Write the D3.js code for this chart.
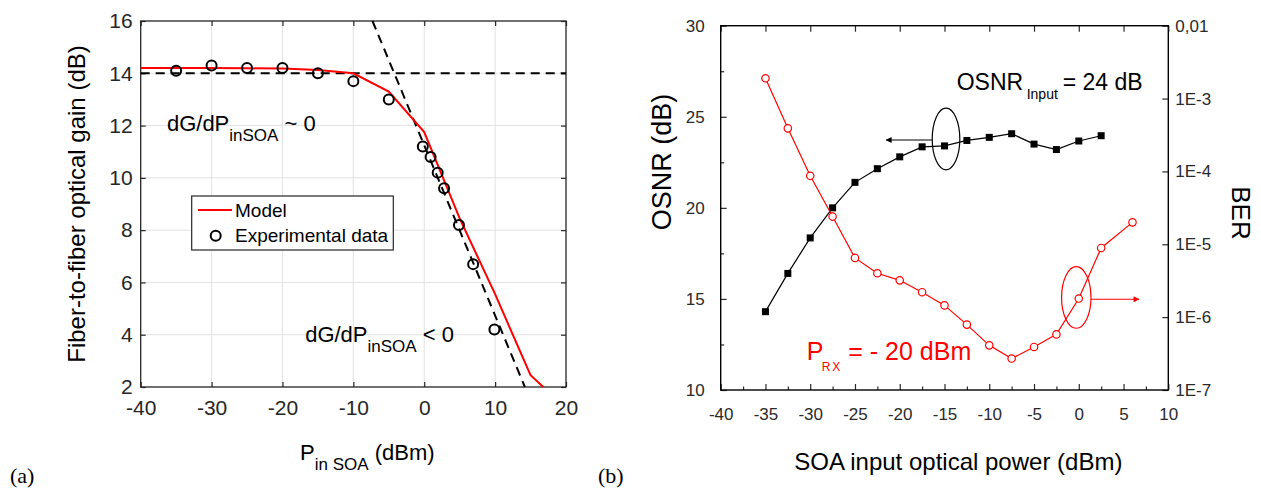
<!DOCTYPE html>
<html><head><meta charset="utf-8">
<script src="https://cdn.jsdelivr.net/npm/d3@7"></script>
<style>
body{margin:0;background:#fff;}
svg{display:block;font-family:"Liberation Sans",Arial,Helvetica,sans-serif;}
</style>
</head><body>
<svg id="c" width="1261" height="492"></svg>
<script>
// ---------- Panel (a) data ----------
const gainTicksX = [-40,-30,-20,-10,0,10,20];
const gainTicksY = [2,4,6,8,10,12,14,16];
const modelP = [-40,-35,-30,-25,-20,-15,-10,-5,0,5,10,15,16.8];
const modelG = [14.2,14.2,14.2,14.19,14.18,14.13,14.0,13.3,11.75,8.45,5.55,2.45,2.0];
const expP = [-35,-30,-25,-20,-15,-10,-5,-0.2,0.9,1.9,2.8,4.9,6.9,9.9];
const expG = [14.1,14.3,14.2,14.2,14.0,13.7,13.0,11.2,10.8,10.2,9.6,8.2,6.7,4.2];
const flatAsymP = [-40,20];
const flatAsymG = [14,14];
const slopeAsymP = [-7.3,14.2];
const slopeAsymG = [16,2];

// ---------- Panel (b) data ----------
const soaTicks = [-40,-35,-30,-25,-20,-15,-10,-5,0,5,10];
const osnrTicks = [10,15,20,25,30];
const berTicks = [1e-7,1e-6,1e-5,1e-4,1e-3,1e-2];
const berTickLabels = ["1E-7","1E-6","1E-5","1E-4","1E-3","0,01"];
const osnrP = [-35,-32.5,-30,-27.5,-25,-22.5,-20,-17.5,-15,-12.5,-10,-7.5,-5,-2.5,0,2.5];
const osnrVal = [14.3,16.4,18.35,20.0,21.4,22.15,22.8,23.35,23.4,23.7,23.87,24.07,23.5,23.2,23.67,23.96];
const berP = [-35,-32.5,-30,-27.5,-25,-22.5,-20,-17.5,-15,-12.5,-10,-7.5,-5,-2.5,0,2.5,6];
const berVal = [1.9e-3,3.9e-4,8.7e-5,2.4e-5,6.5e-6,4.0e-6,3.2e-6,2.2e-6,1.45e-6,7.9e-7,4.1e-7,2.7e-7,3.9e-7,5.8e-7,1.8e-6,8.9e-6,2.0e-5];

const fmt = d => String(d);

const svg = d3.select('#c');
const defs = svg.append('defs');
defs.append('marker').attr('id','arrL').attr('viewBox','0 0 10 10').attr('refX',9).attr('refY',5)
  .attr('markerWidth',9).attr('markerHeight',6).attr('markerUnits','userSpaceOnUse').attr('orient','auto')
  .append('path').attr('d','M0,0 L10,5 L0,10 Z').attr('fill','#000');
defs.append('marker').attr('id','arrR').attr('viewBox','0 0 10 10').attr('refX',9).attr('refY',5)
  .attr('markerWidth',9).attr('markerHeight',6).attr('markerUnits','userSpaceOnUse').attr('orient','auto')
  .append('path').attr('d','M0,0 L10,5 L0,10 Z').attr('fill','#f00');

// =============== Panel (a) ===============
const A = {l:140.7, r:566, t:21, b:387};
const xA = d3.scaleLinear([-40,20],[A.l,A.r]);
const yA = d3.scaleLinear([2,16],[A.b,A.t]);
const gA = svg.append('g');
const axCol = '#262626';

gA.append('g').selectAll('line').data(gainTicksX.slice(1,-1)).join('line')
  .attr('x1',d=>xA(d)).attr('x2',d=>xA(d)).attr('y1',A.t).attr('y2',A.b)
  .attr('stroke','#e2e2e2').attr('stroke-width',1);
gA.append('g').selectAll('line').data(gainTicksY.slice(1,-1)).join('line')
  .attr('y1',d=>yA(d)).attr('y2',d=>yA(d)).attr('x1',A.l).attr('x2',A.r)
  .attr('stroke','#e2e2e2').attr('stroke-width',1);

function styleAx(g, col, fs){
  g.select('.domain').remove();
  g.selectAll('line').attr('stroke',col).attr('stroke-width',1.2);
  g.selectAll('text').attr('fill',col).attr('font-size',fs).attr('font-family','"Liberation Sans",Arial,sans-serif');
}
gA.append('g').attr('transform',`translate(0,${A.b})`)
  .call(d3.axisBottom(xA).tickValues(gainTicksX).tickFormat(fmt).tickSizeInner(-5).tickSizeOuter(0).tickPadding(13))
  .call(g=>styleAx(g,axCol,21));
gA.append('g').attr('transform',`translate(${A.l},0)`)
  .call(d3.axisLeft(yA).tickValues(gainTicksY).tickFormat(fmt).tickSizeInner(-5).tickSizeOuter(0).tickPadding(8))
  .call(g=>styleAx(g,axCol,21));
gA.append('g').attr('transform',`translate(0,${A.t})`)
  .call(d3.axisTop(xA).tickValues(gainTicksX).tickSizeInner(-5).tickSizeOuter(0).tickFormat(''))
  .call(g=>styleAx(g,axCol,21));
gA.append('g').attr('transform',`translate(${A.r},0)`)
  .call(d3.axisRight(yA).tickValues(gainTicksY).tickSizeInner(-5).tickSizeOuter(0).tickFormat(''))
  .call(g=>styleAx(g,axCol,21));
gA.append('rect').attr('x',A.l).attr('y',A.t).attr('width',A.r-A.l).attr('height',A.b-A.t)
  .attr('fill','none').attr('stroke',axCol).attr('stroke-width',1.3);

const lineA = d3.line().x(d=>xA(d[0])).y(d=>yA(d[1]));
gA.append('path').attr('d',lineA(d3.zip(flatAsymP,flatAsymG)))
  .attr('fill','none').attr('stroke','#000').attr('stroke-width',2).attr('stroke-dasharray','9,6');
gA.append('path').attr('d',lineA(d3.zip(slopeAsymP,slopeAsymG)))
  .attr('fill','none').attr('stroke','#000').attr('stroke-width',2).attr('stroke-dasharray','9,6');
gA.append('path').attr('d',lineA(d3.zip(modelP,modelG)))
  .attr('fill','none').attr('stroke','#ff0000').attr('stroke-width',2);
gA.append('g').selectAll('circle').data(d3.zip(expP,expG)).join('circle')
  .attr('cx',d=>xA(d[0])).attr('cy',d=>yA(d[1])).attr('r',5)
  .attr('fill','none').attr('stroke','#000').attr('stroke-width',2);

function subText(g, x, y, main, sub, tail, fs, sfs, dy, col){
  const t = g.append('text').attr('x',x).attr('y',y).attr('font-size',fs).attr('fill',col||'#000');
  t.append('tspan').text(main);
  t.append('tspan').attr('font-size',sfs).attr('dy',dy).text(sub);
  t.append('tspan').attr('font-size',fs).attr('dy',-dy).text(tail);
  return t;
}
subText(gA, xA(-36.3), yA(11.8), 'dG/dP', 'inSOA', ' ~ 0', 22, 17, 10);
subText(gA, xA(-16.8), yA(3.74), 'dG/dP', 'inSOA', ' < 0', 22, 17, 10);

const lg = gA.append('g');
lg.append('rect').attr('x',191.7).attr('y',196).attr('width',201.6).attr('height',54)
  .attr('fill','#fff').attr('stroke',axCol).attr('stroke-width',1.2);
lg.append('line').attr('x1',198).attr('x2',232).attr('y1',210).attr('y2',210).attr('stroke','#f00').attr('stroke-width',2);
lg.append('text').attr('x',235).attr('y',216.5).attr('font-size',19).text('Model');
lg.append('circle').attr('cx',215.7).attr('cy',235.7).attr('r',5).attr('fill','none').attr('stroke','#000').attr('stroke-width',2);
lg.append('text').attr('x',235).attr('y',241.5).attr('font-size',19).text('Experimental data');

subText(gA, 300, 460, 'P', 'in SOA', ' (dBm)', 22, 17, 10);
gA.append('text').attr('transform','translate(85,204) rotate(-90)').attr('text-anchor','middle')
  .attr('font-size',24).text('Fiber-to-fiber optical gain (dB)');
svg.append('text').attr('x',10).attr('y',483).attr('font-size',22)
  .attr('font-family','"Liberation Serif","Times New Roman",serif').text('(a)');

// =============== Panel (b) ===============
const B = {l:720.7, r:1168.3, t:25.7, b:390};
const xB = d3.scaleLinear([-40,10],[B.l,B.r]);
const yB = d3.scaleLinear([10,30],[B.b,B.t]);
const yBer = d3.scaleLog([1e-7,1e-2],[B.b,B.t]);
const gB = svg.append('g');
const tcol = '#2a2a2a';
const minorX = soaTicks.slice(0,-1).map(d=>d+2.5);
const minorY = osnrTicks.slice(0,-1).map(d=>d+2.5);

gB.append('g').attr('transform',`translate(0,${B.b})`)
  .call(d3.axisBottom(xB).tickValues(soaTicks).tickFormat(fmt).tickSizeInner(-6).tickSizeOuter(0).tickPadding(18))
  .call(g=>styleAx(g,tcol,17));
gB.append('g').attr('transform',`translate(0,${B.b})`)
  .call(d3.axisBottom(xB).tickValues(minorX).tickSizeInner(-3.5).tickSizeOuter(0).tickFormat(''))
  .call(g=>styleAx(g,tcol,17));
gB.append('g').attr('transform',`translate(0,${B.t})`)
  .call(d3.axisTop(xB).tickValues(soaTicks).tickSizeInner(-6).tickSizeOuter(0).tickFormat(''))
  .call(g=>styleAx(g,tcol,17));
gB.append('g').attr('transform',`translate(${B.l},0)`)
  .call(d3.axisLeft(yB).tickValues(osnrTicks).tickFormat(fmt).tickSizeInner(-6).tickSizeOuter(0).tickPadding(16))
  .call(g=>styleAx(g,tcol,17));
gB.append('g').attr('transform',`translate(${B.l},0)`)
  .call(d3.axisLeft(yB).tickValues(minorY).tickSizeInner(-3.5).tickSizeOuter(0).tickFormat(''))
  .call(g=>styleAx(g,tcol,17));
gB.append('g').attr('transform',`translate(${B.r},0)`)
  .call(d3.axisRight(yBer).tickValues(berTicks).tickFormat((d,i)=>berTickLabels[i]).tickSizeInner(-6).tickSizeOuter(0).tickPadding(7))
  .call(g=>styleAx(g,tcol,17));
gB.append('rect').attr('x',B.l).attr('y',B.t).attr('width',B.r-B.l).attr('height',B.b-B.t)
  .attr('fill','none').attr('stroke','#000').attr('stroke-width',1.4);

gB.append('path').attr('d',d3.line().x(d=>xB(d[0])).y(d=>yB(d[1]))(d3.zip(osnrP,osnrVal)))
  .attr('fill','none').attr('stroke','#000').attr('stroke-width',1.2);
gB.append('g').selectAll('rect').data(d3.zip(osnrP,osnrVal)).join('rect')
  .attr('x',d=>xB(d[0])-3.5).attr('y',d=>yB(d[1])-3.5).attr('width',7).attr('height',7).attr('fill','#000');
gB.append('path').attr('d',d3.line().x(d=>xB(d[0])).y(d=>yBer(d[1]))(d3.zip(berP,berVal)))
  .attr('fill','none').attr('stroke','#f00').attr('stroke-width',1.2);
gB.append('g').selectAll('circle').data(d3.zip(berP,berVal)).join('circle')
  .attr('cx',d=>xB(d[0])).attr('cy',d=>yBer(d[1])).attr('r',3.7)
  .attr('fill','#fff').attr('stroke','#f00').attr('stroke-width',1.2);

const e1 = {cx:xB(-14.83), cy:yB(23.78), rx:13.8, ry:30.8};
gB.append('ellipse').attr('cx',e1.cx).attr('cy',e1.cy).attr('rx',e1.rx).attr('ry',e1.ry)
  .attr('fill','none').attr('stroke','#000').attr('stroke-width',1.2);
gB.append('line').attr('x1',e1.cx-e1.rx).attr('y1',e1.cy+1).attr('x2',e1.cx-e1.rx-46).attr('y2',e1.cy+1)
  .attr('stroke','#000').attr('stroke-width',1.2).attr('marker-end','url(#arrL)');
const e2 = {cx:xB(-0.28), cy:yB(15.08), rx:14.7, ry:30.8};
gB.append('ellipse').attr('cx',e2.cx).attr('cy',e2.cy).attr('rx',e2.rx).attr('ry',e2.ry)
  .attr('fill','none').attr('stroke','#f00').attr('stroke-width',1.2);
gB.append('line').attr('x1',e2.cx+e2.rx).attr('y1',e2.cy+1.8).attr('x2',e2.cx+e2.rx+48).attr('y2',e2.cy+1.8)
  .attr('stroke','#f00').attr('stroke-width',1.2).attr('marker-end','url(#arrR)');

const t1 = gB.append('text').attr('x',956.7).attr('y',90).attr('font-size',23).attr('fill','#000');
t1.append('tspan').text('OSNR');
t1.append('tspan').attr('x',1026.7).attr('dy',9).attr('font-size',14).text('Input');
t1.append('tspan').attr('x',1062.7).attr('dy',-9).text('= 24 dB');
const t2 = gB.append('text').attr('x',806.7).attr('y',360).attr('font-size',25).attr('fill','#f00');
t2.append('tspan').text('P');
t2.append('tspan').attr('x',821.7).attr('dy',10.7).attr('font-size',12).attr('letter-spacing',2).text('RX');
t2.append('tspan').attr('x',848.3).attr('dy',-10.7).text('= - 20 dBm');

gB.append('text').attr('x',958.3).attr('y',470).attr('text-anchor','middle').attr('font-size',24).text('SOA input optical power (dBm)');
gB.append('text').attr('transform','translate(671,162) rotate(-90)').attr('text-anchor','middle').attr('font-size',27).text('OSNR (dB)');
gB.append('text').attr('transform','translate(1231.7,213) rotate(90)').attr('text-anchor','middle').attr('font-size',26).text('BER');
svg.append('text').attr('x',598).attr('y',483).attr('font-size',22)
  .attr('font-family','"Liberation Serif","Times New Roman",serif').text('(b)');
</script>
</body></html>
